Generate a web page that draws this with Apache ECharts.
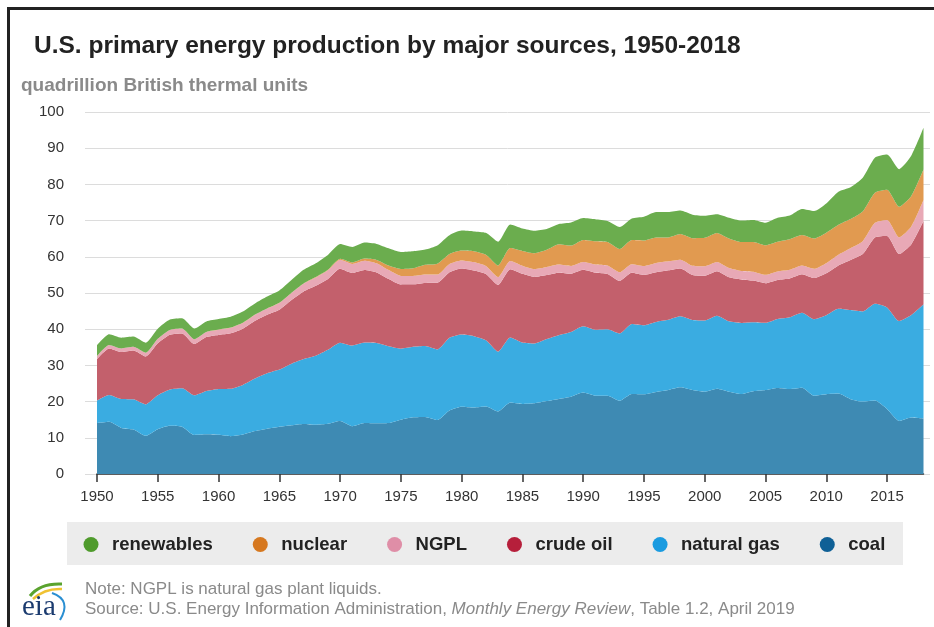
<!DOCTYPE html>
<html>
<head>
<meta charset="utf-8">
<script src="https://cdn.jsdelivr.net/npm/echarts@6/dist/echarts.min.js"></script>
<style>
  html, body { margin: 0; padding: 0; background: #fff; }
  #chart { width: 934px; height: 627px; }
</style>
</head>
<body>
<div id="chart"></div>
<script>
// U.S. primary energy production by source, quadrillion Btu, 1950-2018
const years = [
  '1950', '1951', '1952', '1953', '1954', '1955', '1956', '1957', '1958', '1959',
  '1960', '1961', '1962', '1963', '1964', '1965', '1966', '1967', '1968', '1969',
  '1970', '1971', '1972', '1973', '1974', '1975', '1976', '1977', '1978', '1979',
  '1980', '1981', '1982', '1983', '1984', '1985', '1986', '1987', '1988', '1989',
  '1990', '1991', '1992', '1993', '1994', '1995', '1996', '1997', '1998', '1999',
  '2000', '2001', '2002', '2003', '2004', '2005', '2006', '2007', '2008', '2009',
  '2010', '2011', '2012', '2013', '2014', '2015', '2016', '2017', '2018'
];

const coal = [
  14.06, 14.41, 12.73, 12.28, 10.54, 12.37, 13.31, 13.06, 10.78, 10.96,
  10.82, 10.45, 10.90, 11.85, 12.52, 13.06, 13.47, 13.83, 13.61, 13.86,
  14.61, 13.19, 14.09, 13.99, 14.07, 14.99, 15.65, 15.76, 14.91, 17.54,
  18.60, 18.38, 18.64, 17.25, 19.72, 19.33, 19.51, 20.14, 20.74, 21.36,
  22.49, 21.64, 21.63, 20.25, 22.11, 22.03, 22.68, 23.21, 23.94, 23.19,
  22.74, 23.55, 22.73, 22.09, 22.85, 23.19, 23.79, 23.49, 23.85, 21.62,
  22.04, 22.22, 20.68, 20.00, 20.29, 17.95, 14.67, 15.62, 15.36
];

const naturalGas = [
  6.23, 7.42, 7.96, 8.34, 8.68, 9.35, 10.00, 10.60, 10.94, 11.95,
  12.66, 13.10, 13.72, 14.51, 15.30, 15.78, 17.01, 17.94, 19.07, 20.45,
  21.67, 22.28, 22.21, 22.19, 21.21, 19.64, 19.48, 19.57, 19.49, 20.08,
  19.91, 19.70, 18.32, 16.59, 18.01, 16.98, 16.54, 17.14, 17.60, 17.85,
  18.33, 18.23, 18.38, 18.58, 19.35, 19.08, 19.34, 19.39, 19.61, 19.34,
  19.66, 20.17, 19.44, 19.63, 19.07, 18.56, 19.02, 19.79, 20.70, 21.14,
  21.81, 23.41, 24.59, 24.89, 26.72, 28.07, 27.57, 28.29, 31.50
];

const crudeOil = [
  11.45, 12.87, 13.00, 13.47, 13.24, 14.41, 15.18, 15.18, 14.20, 14.93,
  14.94, 15.32, 15.52, 15.97, 16.16, 16.52, 17.56, 18.65, 19.31, 19.56,
  20.40, 20.03, 20.04, 19.49, 18.57, 17.73, 17.26, 17.45, 18.43, 18.10,
  18.25, 18.15, 18.31, 18.39, 18.85, 18.99, 18.38, 17.67, 17.28, 16.12,
  15.57, 15.70, 15.22, 14.49, 14.10, 13.89, 13.72, 13.66, 13.24, 12.45,
  12.36, 12.28, 12.16, 12.03, 11.50, 10.96, 10.80, 10.72, 10.61, 11.35,
  11.59, 11.99, 13.84, 15.86, 18.33, 19.71, 18.53, 19.57, 23.02
];

const ngpl = [
  0.82, 0.93, 0.98, 1.03, 1.05, 1.24, 1.31, 1.33, 1.31, 1.41,
  1.46, 1.55, 1.59, 1.67, 1.71, 1.88, 1.99, 2.14, 2.26, 2.39,
  2.51, 2.54, 2.60, 2.57, 2.47, 2.37, 2.33, 2.33, 2.25, 2.29,
  2.25, 2.31, 2.19, 2.18, 2.27, 2.24, 2.15, 2.22, 2.26, 2.16,
  2.17, 2.31, 2.36, 2.41, 2.39, 2.44, 2.53, 2.50, 2.42, 2.53,
  2.61, 2.55, 2.56, 2.35, 2.47, 2.33, 2.36, 2.41, 2.42, 2.57,
  2.78, 2.97, 3.27, 3.55, 4.04, 4.47, 4.64, 4.91, 5.79
];

const nuclear = [
  0, 0, 0, 0, 0, 0, 0, 0, 0, 0,
  0.01, 0.02, 0.03, 0.04, 0.04, 0.04, 0.06, 0.09, 0.14, 0.15,
  0.24, 0.41, 0.58, 0.91, 1.27, 1.90, 2.11, 2.70, 3.02, 2.78,
  2.74, 3.01, 3.13, 3.20, 3.55, 4.08, 4.38, 4.75, 5.59, 5.60,
  6.10, 6.42, 6.48, 6.41, 6.69, 7.08, 7.09, 6.60, 7.07, 7.61,
  7.86, 8.03, 8.15, 7.96, 8.22, 8.16, 8.22, 8.46, 8.43, 8.36,
  8.43, 8.27, 8.06, 8.24, 8.34, 8.34, 8.43, 8.42, 8.44
];

const renewables = [
  2.98, 2.96, 2.97, 2.83, 2.75, 2.78, 2.86, 2.84, 2.96, 2.91,
  2.93, 2.99, 3.12, 3.08, 3.28, 3.40, 3.49, 3.75, 3.82, 4.11,
  4.08, 4.26, 4.40, 4.41, 4.74, 4.69, 4.71, 4.19, 5.04, 5.17,
  5.49, 5.47, 6.03, 6.56, 6.52, 6.19, 6.22, 5.74, 5.57, 6.39,
  6.04, 6.07, 5.82, 6.08, 5.97, 6.56, 7.01, 7.01, 6.49, 6.51,
  6.10, 5.16, 5.73, 5.94, 6.07, 6.22, 6.58, 6.51, 7.19, 7.61,
  8.09, 9.11, 8.77, 9.29, 9.66, 9.69, 10.37, 11.14, 11.52
];

// Stacking order, bottom to top
const layers = [
  { name: 'coal',        values: coal,       dot: '#0f6096', fill: '#3e8ab3' },
  { name: 'natural gas', values: naturalGas, dot: '#1a9be0', fill: '#3aace1' },
  { name: 'crude oil',   values: crudeOil,   dot: '#b61f3b', fill: '#c3606c' },
  { name: 'NGPL',        values: ngpl,       dot: '#df8ea7', fill: '#e8a9b6' },
  { name: 'nuclear',     values: nuclear,    dot: '#d6781f', fill: '#e19a50' },
  { name: 'renewables',  values: renewables, dot: '#4f9b2c', fill: '#6bad4e' }
];

const legendOrder = ['renewables', 'nuclear', 'NGPL', 'crude oil', 'natural gas', 'coal'];

const FONT = '"Liberation Sans", Arial, sans-serif';

const chart = echarts.init(document.getElementById('chart'), null, { renderer: 'canvas' });

const series = layers.map(l => ({
  name: l.name,
  type: 'line',
  stack: 'energy',
  xAxisIndex: 0,
  yAxisIndex: 0,
  symbol: 'none',
  smooth: 0.2,
  itemStyle: { color: l.dot },
  lineStyle: { width: 0, opacity: 0 },
  areaStyle: { color: l.fill, opacity: 1 },
  emphasis: { disabled: true },
  data: l.values
}));

const option = {
  animation: false,
  backgroundColor: '#ffffff',
  textStyle: { fontFamily: FONT },
  title: [
    {
      text: 'U.S. primary energy production by major sources, 1950-2018',
      left: 29, top: 29,
      textStyle: { fontFamily: FONT, fontSize: 24.5, fontWeight: 'bold', color: '#222' }
    },
    {
      text: 'quadrillion British thermal units',
      left: 16, top: 71,
      textStyle: { fontFamily: FONT, fontSize: 19, fontWeight: 'bold', color: '#8a8a8a' }
    }
  ],
  grid: [
    // plot area for the stacked areas
    { left: 97, right: 10.5, top: 112, bottom: 153, containLabel: false },
    // wider band carrying the value scale and its gridlines
    { left: 85, right: 4, top: 112, bottom: 153, containLabel: false }
  ],
  xAxis: [
    {
      type: 'category',
      gridIndex: 0,
      data: years,
      boundaryGap: false,
      axisLine: { show: true, lineStyle: { color: '#333', width: 1.5 } },
      axisTick: { show: true, interval: 4, length: 8, lineStyle: { color: '#333', width: 1.5 } },
      axisLabel: { interval: 4, fontSize: 15, color: '#333', margin: 15, fontFamily: FONT },
      splitLine: { show: false }
    },
    { type: 'value', gridIndex: 1, show: false, min: 0, max: 1 }
  ],
  yAxis: [
    {
      type: 'value', gridIndex: 0, min: 0, max: 100, interval: 10,
      axisLine: { show: false }, axisTick: { show: false },
      axisLabel: { show: false }, splitLine: { show: false }
    },
    {
      type: 'value', gridIndex: 1, min: 0, max: 100, interval: 10,
      axisLine: { show: false }, axisTick: { show: false },
      axisLabel: { fontSize: 15, color: '#333', margin: 21, fontFamily: FONT },
      splitLine: { lineStyle: { color: '#dcdcdc', width: 1 } }
    }
  ],
  legend: {
    data: legendOrder.map(n => {
      const l = layers.find(x => x.name === n);
      return { name: n, itemStyle: { color: l.dot } };
    }),
    icon: 'circle',
    itemWidth: 32,
    itemHeight: 15,
    itemGap: 40,
    left: 83.5,
    top: 535,
    padding: 0,
    selectedMode: false,
    textStyle: { fontFamily: FONT, fontSize: 18.5, fontWeight: 'bold', color: '#222' }
  },
  graphic: [
    // frame edges
    { type: 'rect', silent: true, shape: { x: 7, y: 7, width: 3, height: 620 }, style: { fill: '#222' } },
    { type: 'rect', silent: true, shape: { x: 7, y: 7, width: 927, height: 3 }, style: { fill: '#222' } },
    // legend band
    { type: 'rect', silent: true, z: -1, shape: { x: 67, y: 522, width: 836, height: 43 }, style: { fill: '#ececec' } },
    // eia logo
    { type: 'bezierCurve', silent: true, shape: { x1: 30, y1: 596, cpx1: 40, cpy1: 583, x2: 62, y2: 584 }, style: { stroke: '#5aa32e', lineWidth: 3, fill: null } },
    { type: 'bezierCurve', silent: true, shape: { x1: 33, y1: 599, cpx1: 45, cpy1: 588, x2: 62, y2: 589 }, style: { stroke: '#f0c232', lineWidth: 2.5, fill: null } },
    { type: 'bezierCurve', silent: true, shape: { x1: 52, y1: 593, cpx1: 72, cpy1: 600, x2: 60, y2: 620 }, style: { stroke: '#2a8fd2', lineWidth: 2, fill: null } },
    { type: 'text', silent: true, style: { x: 22, y: 622, text: 'eia', fill: '#1b3b6f', font: '29px "Liberation Serif", "DejaVu Serif", serif', textVerticalAlign: 'bottom' } },
    // footnote
    {
      type: 'text', silent: true,
      style: {
        x: 85, y: 589, textVerticalAlign: 'middle',
        text: 'Note: NGPL is natural gas plant liquids.',
        fill: '#8a8a8a', font: '17px ' + FONT
      }
    },
    {
      type: 'text', silent: true,
      style: {
        x: 85, y: 609, textVerticalAlign: 'middle',
        text: '{a|Source: U.S. Energy Information Administration, }{b|Monthly Energy Review}{a|, Table 1.2, April 2019}',
        rich: {
          a: { fill: '#8a8a8a', fontSize: 17, fontFamily: FONT },
          b: { fill: '#8a8a8a', fontSize: 17, fontFamily: FONT, fontStyle: 'italic' }
        }
      }
    }
  ],
  series: series
};

chart.setOption(option);
</script>
</body>
</html>
